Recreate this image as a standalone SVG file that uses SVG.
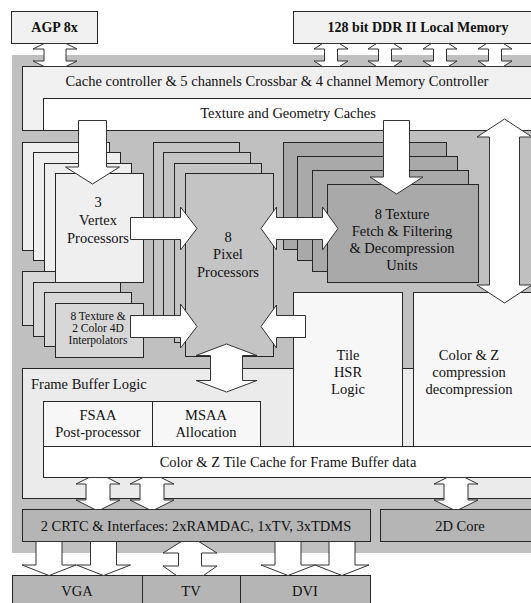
<svg xmlns="http://www.w3.org/2000/svg" width="531" height="603" viewBox="0 0 531 603">
<style>
.bx{stroke:#262626;stroke-width:1}
.w{fill:#ffffff}.l{fill:#f0f0f0}.vx{fill:#efefef}.ip{fill:#d7d7d7}.px{fill:#c4c4c4}.tx{fill:#a9a9a9}.fb{fill:#ebebeb}.lt{fill:#f7f7f7}.dk{fill:#b5b5b5}
.t{font-family:"Liberation Serif","Times New Roman",serif;font-size:14.5px;fill:#111;text-anchor:middle}
.s{font-size:11.5px}
.b{font-weight:bold;font-size:14px}
.ar{fill:#ffffff;stroke:#333;stroke-width:1;stroke-linejoin:miter}
</style>
<rect x="12" y="55" width="530" height="498" fill="#c0c0c0"/>

<g id="agp"><rect class="bx l" x="11.5" y="11.5" width="86" height="32"/><text class="t b" x="54.5" y="32">AGP 8x</text></g>
<g id="ddr"><rect class="bx l" x="293.5" y="11.5" width="250" height="32"/><text class="t b" x="418" y="32">128 bit DDR II Local Memory</text></g>
<g id="cache-controller"><rect class="bx l" x="22.5" y="66.5" width="520" height="64"/><text class="t" x="277" y="86">Cache controller &amp; 5 channels Crossbar &amp; 4 channel Memory Controller</text></g>
<g id="tex-geo-caches"><rect class="bx w" x="43.5" y="98.5" width="500" height="32"/><text class="t" x="288" y="118">Texture and Geometry Caches</text></g>

<g id="frame-buffer-logic"><rect class="bx fb" x="22.5" y="368.5" width="520" height="130"/><text class="t" x="31" y="389" style="text-anchor:start">Frame Buffer Logic</text></g>
<g id="tile-hsr"><rect class="bx lt" x="293.5" y="292.5" width="109" height="154"/><text class="t" x="348" y="360">Tile</text><text class="t" x="348" y="377">HSR</text><text class="t" x="348" y="394">Logic</text></g>
<g id="color-z-compression"><rect class="bx lt" x="413.5" y="292.5" width="130" height="154"/><text class="t" x="469" y="360">Color &amp; Z</text><text class="t" x="469" y="377">compression</text><text class="t" x="469" y="394">decompression</text></g>
<g id="fsaa"><rect class="bx lt" x="43.5" y="401.5" width="109" height="45"/><text class="t" x="98" y="420">FSAA</text><text class="t" x="98" y="437">Post-processor</text></g>
<g id="msaa"><rect class="bx lt" x="152.5" y="401.5" width="108" height="45"/><text class="t" x="206" y="420">MSAA</text><text class="t" x="206" y="437">Allocation</text></g>
<g id="tile-cache"><rect class="bx w" x="43.5" y="446.5" width="500" height="31"/><text class="t" x="288" y="467">Color &amp; Z Tile Cache for Frame Buffer data</text></g>

<g id="interpolators">
<rect class="bx ip" x="22.5" y="271.5" width="87" height="54"/>
<rect class="bx ip" x="33.5" y="282.5" width="87" height="54"/>
<rect class="bx ip" x="44.5" y="292.5" width="87" height="54"/>
<rect class="bx ip" x="55.5" y="303.5" width="88" height="54"/>
<text class="t s" x="98" y="320">8 Texture &amp;</text><text class="t s" x="98" y="332">2 Color 4D</text><text class="t s" x="98" y="344">Interpolators</text>
</g>
<g id="vertex-processors">
<rect class="bx vx" x="22.5" y="142.5" width="87" height="108"/>
<rect class="bx vx" x="33.5" y="152.5" width="87" height="108"/>
<rect class="bx vx" x="44.5" y="163.5" width="87" height="108"/>
<rect class="bx vx" x="55.5" y="173.5" width="88" height="109"/>
<text class="t" x="98" y="207">3</text><text class="t" x="98" y="225">Vertex</text><text class="t" x="98" y="243">Processors</text>
</g>
<g id="pixel-processors">
<rect class="bx px" x="153.5" y="142.5" width="86" height="178"/>
<rect class="bx px" x="163.5" y="152.5" width="87" height="179"/>
<rect class="bx px" x="174.5" y="163.5" width="87" height="179"/>
<rect class="bx px" x="185.5" y="173.5" width="88" height="183"/>
<text class="t" x="228" y="242">8</text><text class="t" x="228" y="259">Pixel</text><text class="t" x="228" y="277">Processors</text>
</g>
<g id="texture-units">
<rect class="bx tx" x="283.5" y="142.5" width="163" height="107"/>
<rect class="bx tx" x="297.5" y="156.5" width="160" height="104"/>
<rect class="bx tx" x="312.5" y="170.5" width="156" height="101"/>
<rect class="bx tx" x="327.5" y="184.5" width="151" height="98"/>
<text class="t" x="402" y="219">8 Texture</text><text class="t" x="402" y="236">Fetch &amp; Filtering</text><text class="t" x="402" y="253">&amp; Decompression</text><text class="t" x="402" y="270">Units</text>
</g>

<g id="crtc"><rect class="bx dk" x="22.5" y="509.5" width="348" height="32"/><text class="t" x="196" y="531">2 CRTC &amp; Interfaces: 2xRAMDAC, 1xTV, 3xTDMS</text></g>
<g id="core-2d"><rect class="bx dk" x="380.5" y="509.5" width="160" height="32"/><text class="t" x="460" y="531">2D Core</text></g>
<g id="vga"><rect class="bx dk" x="12.5" y="575.5" width="130" height="30"/><text class="t" x="77" y="596">VGA</text></g>
<g id="tv"><rect class="bx dk" x="142.5" y="575.5" width="98" height="30"/><text class="t" x="191" y="596">TV</text></g>
<g id="dvi"><rect class="bx dk" x="240.5" y="575.5" width="130" height="30"/><text class="t" x="305" y="596">DVI</text></g>

<g id="connectors">
<polygon class="ar" points="44,43.5 66,43.5 77,49 66,49 66,61 77,61 66,66.5 44,66.5 33,61 44,61 44,49 33,49"/>
<polygon class="ar" points="322.5,43.5 339.5,43.5 348,49 337.5,49 337.5,61 348,61 339.5,66.5 322.5,66.5 314,61 324.5,61 324.5,49 314,49"/>
<polygon class="ar" points="376.5,43.5 393.5,43.5 402,49 391.5,49 391.5,61 402,61 393.5,66.5 376.5,66.5 368,61 378.5,61 378.5,49 368,49"/>
<polygon class="ar" points="431.5,43.5 448.5,43.5 457,49 446.5,49 446.5,61 457,61 448.5,66.5 431.5,66.5 423,61 433.5,61 433.5,49 423,49"/>
<polygon class="ar" points="486.5,43.5 503.5,43.5 512,49 501.5,49 501.5,61 512,61 503.5,66.5 486.5,66.5 478,61 488.5,61 488.5,49 478,49"/>
<polygon class="ar" points="78.5,120.5 106.5,120.5 106.5,167 119.5,167 92.5,184 65.5,167 78.5,167"/>
<polygon class="ar" points="383.5,120.5 409.5,120.5 409.5,177 423,177 396.5,194 370,177 383.5,177"/>
<polygon class="ar" points="504.5,119 532,137 519.5,137 519.5,285 532,285 504.5,303 477,285 489.5,285 489.5,137 477,137"/>
<polygon class="ar" points="130.5,217.5 180.5,217.5 180.5,207 197,228.5 180.5,250 180.5,239.5 130.5,239.5"/>
<polygon class="ar" points="130.5,315.5 180.5,315.5 180.5,304 197,326.5 180.5,348 180.5,337.5 130.5,337.5"/>
<polygon class="ar" points="261,228.5 276.5,207 276.5,217.5 322.5,217.5 322.5,207 338,228.5 322.5,250 322.5,239.5 276.5,239.5 276.5,250"/>
<polygon class="ar" points="261,326.5 276.5,305 276.5,315.5 305.5,315.5 305.5,337.5 276.5,337.5 276.5,348"/>
<polygon class="ar" points="226.5,344 257,355.5 242.5,355.5 242.5,380.5 257,380.5 226.5,392 196,380.5 210.5,380.5 210.5,355.5 196,355.5"/>
<polygon class="ar" points="89,477.5 107,477.5 120,484 110,484 110,500 120,500 101,509.5 95,509.5 76,500 86,500 86,484 76,484"/>
<polygon class="ar" points="143,477.5 161,477.5 174,484 164,484 164,500 174,500 155,509.5 149,509.5 130,500 140,500 140,484 130,484"/>
<polygon class="ar" points="447,477.5 465,477.5 478,484 468,484 468,500 478,500 459,509.5 453,509.5 434,500 444,500 444,484 434,484"/>
<polygon class="ar" points="36,541.5 62,541.5 62,565 76,565 49,575.5 22,565 36,565"/>
<polygon class="ar" points="90.5,541.5 116.5,541.5 116.5,565 130.5,565 103.5,575.5 76.5,565 90.5,565"/>
<polygon class="ar" points="181.3,541.5 198.7,541.5 217,553 201.5,553 201.5,566 217,566 203.5,575.5 176.5,575.5 163,566 178.5,566 178.5,553 163,553"/>
<polygon class="ar" points="275,541.5 301,541.5 301,565 315,565 288,575.5 261,565 275,565"/>
<polygon class="ar" points="329,541.5 355,541.5 355,565 369,565 342,575.5 315,565 329,565"/>
</g>
</svg>
